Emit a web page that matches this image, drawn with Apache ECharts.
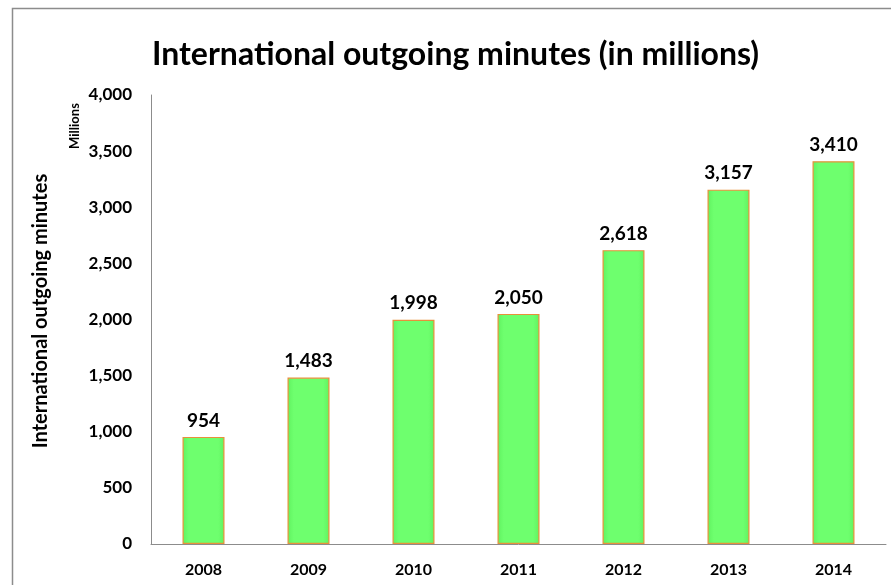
<!DOCTYPE html>
<html><head><meta charset="utf-8">
<script src="https://cdn.jsdelivr.net/npm/echarts@6/dist/echarts.min.js"></script>
<style>html,body{margin:0;padding:0;background:#fff}#c{width:891px;height:585px}</style>
</head><body><div id="c"></div>
<script>
const years = ['2008','2009','2010','2011','2012','2013','2014'];
const minutes = [954, 1483, 1998, 2050, 2618, 3157, 3410];
const yTicks = [0, 500, 1000, 1500, 2000, 2500, 3000, 3500, 4000];

const F = 'Lato';
const chart = echarts.init(document.getElementById('c'), null, {renderer:'canvas'});
chart.setOption({
  animation:false,
  backgroundColor:'#fff',
  graphic:[
    {type:'rect', shape:{x:12.5,y:8.5,width:1000,height:1000}, style:{fill:'none',stroke:'#8c8c8c',lineWidth:1.5}, silent:true},
    {type:'text', x:75, y:126, rotation:Math.PI/2, style:{text:'Millions', font:'bold 13px '+F, fill:'#000', align:'center', verticalAlign:'middle'}},
    {type:'text', x:41, y:311, rotation:Math.PI/2, style:{text:'International outgoing minutes', font:'bold 20px '+F, fill:'#000', align:'center', verticalAlign:'middle'}}
  ],
  title:{text:'International outgoing minutes (in millions)', left:152, top:39,
    textStyle:{fontFamily:F, fontWeight:'bold', fontSize:32, color:'#000'}, padding:0, itemGap:0},
  grid:{left:151, right:5, top:95, bottom:41, containLabel:false},
  xAxis:{type:'category', data:years,
    axisLine:{lineStyle:{color:'#8c8c8c', width:1}}, axisTick:{show:false},
    axisLabel:{fontFamily:F, fontWeight:'bold', fontSize:16, color:'#000', margin:18}},
  yAxis:{type:'value', min:0, max:4000, interval:500,
    axisLine:{show:true, lineStyle:{color:'#8c8c8c', width:1}}, axisTick:{show:false},
    splitLine:{show:false},
    axisLabel:{fontFamily:F, fontWeight:'bold', fontSize:17, color:'#000', margin:19,
      formatter:v=>v.toLocaleString('en-US')}},
  series:[{type:'bar', data:minutes, barWidth:'40%',
    itemStyle:{color:{type:'linear',x:0,y:0,x2:1,y2:0,colorStops:[{offset:0,color:'#60f260'},{offset:0.15,color:'#6eff6e'},{offset:0.85,color:'#6eff6e'},{offset:1,color:'#60f260'}]},
      borderColor:'#e8903a', borderWidth:1.2},
    label:{show:true, position:'top', distance:7, fontFamily:F, fontWeight:'bold', fontSize:19, color:'#000',
      formatter:p=>p.value.toLocaleString('en-US')}}]
});
</script></body></html>
